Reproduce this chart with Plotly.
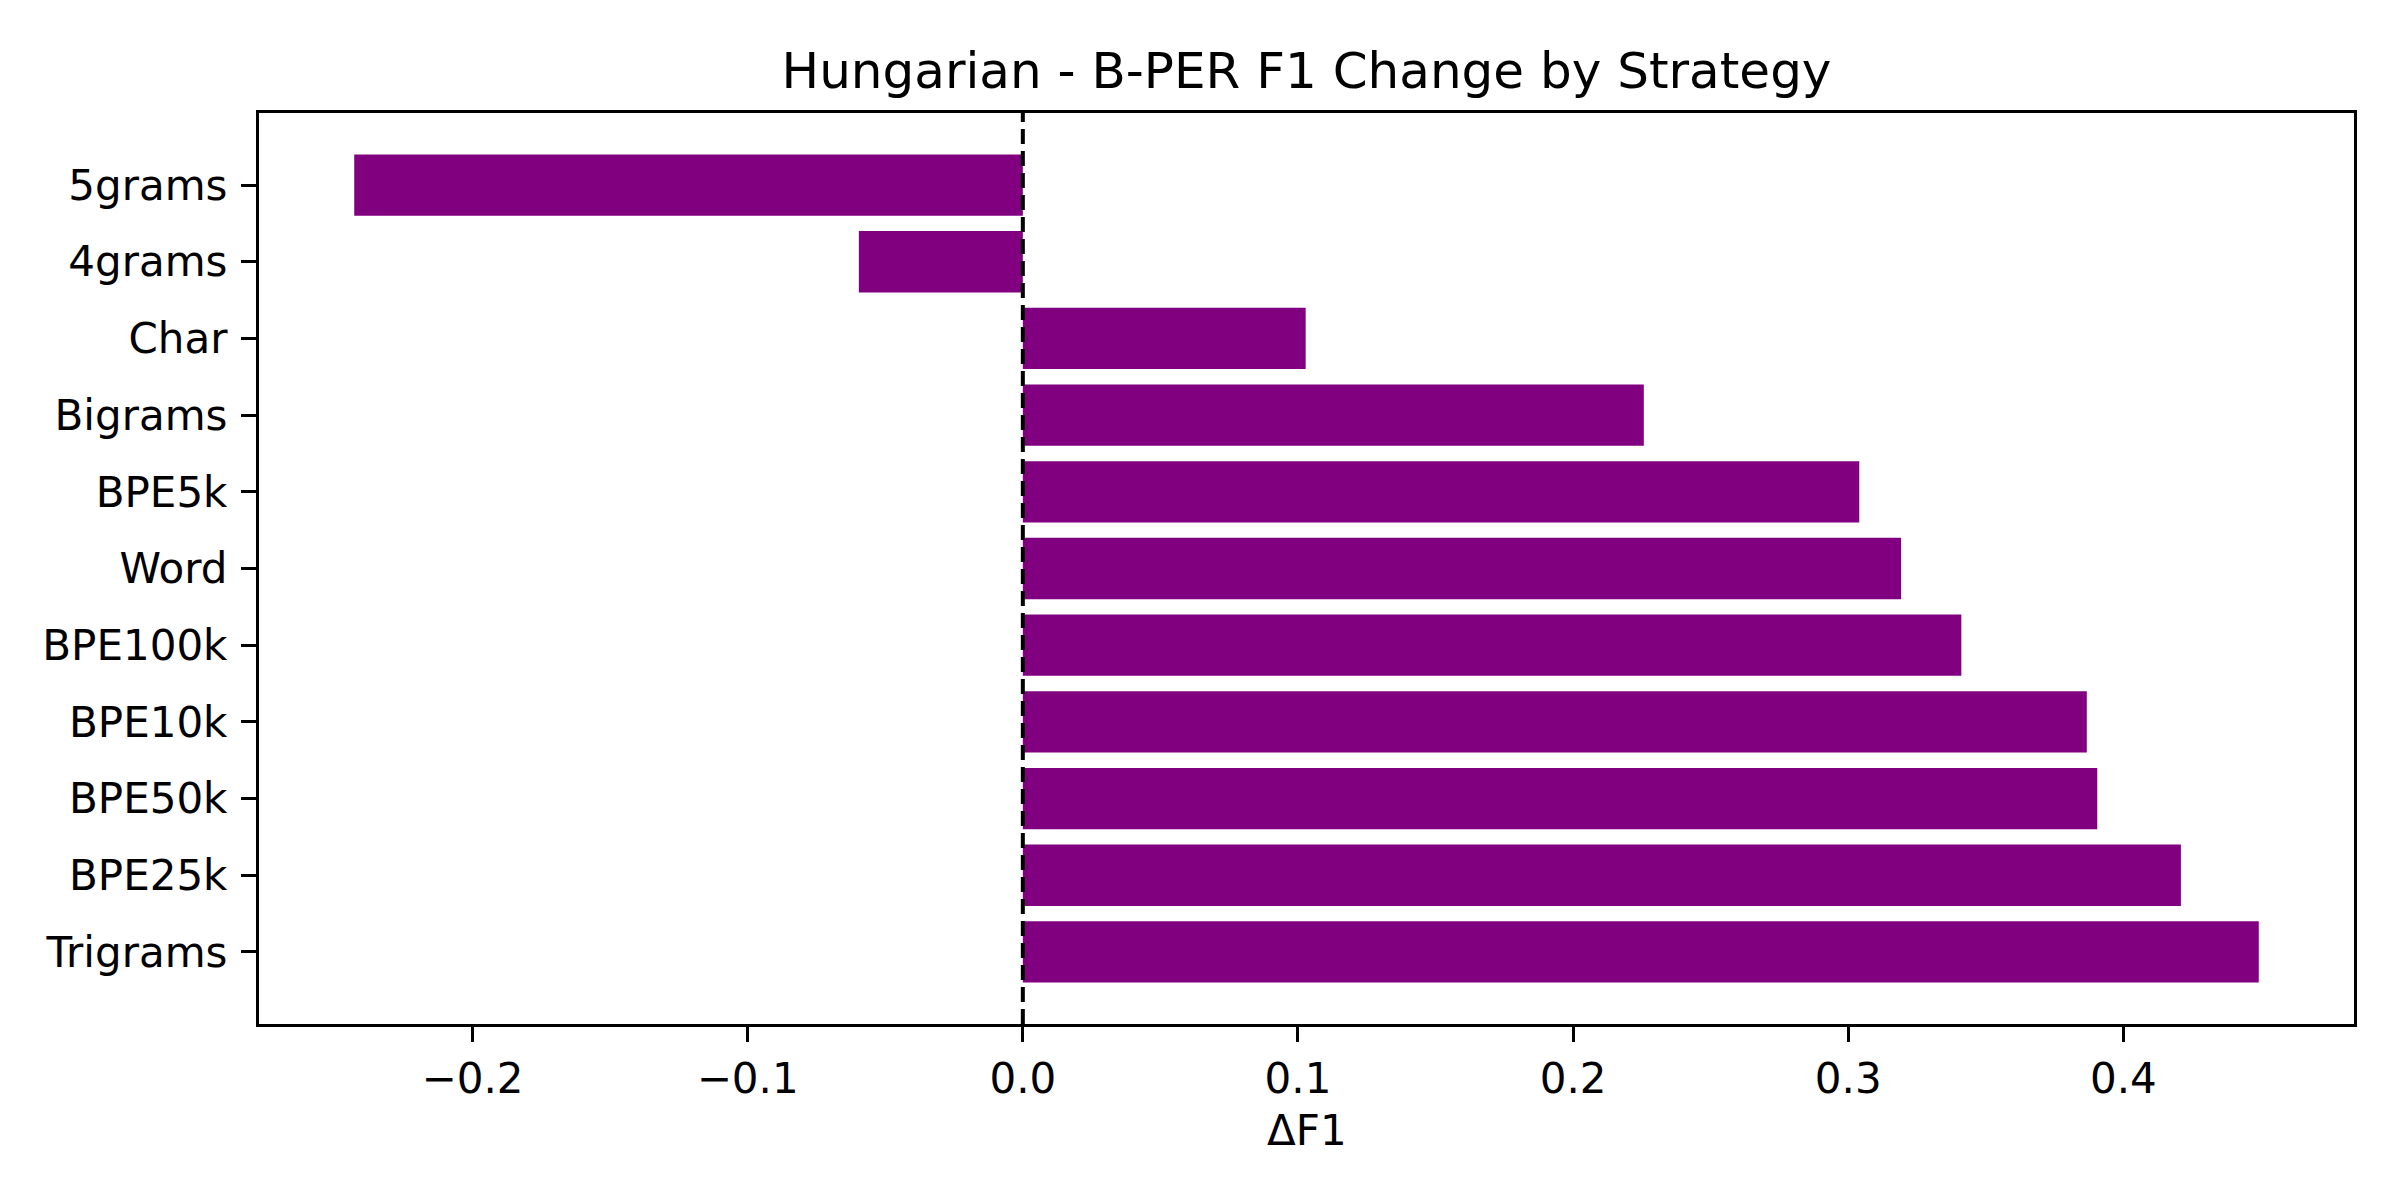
import plotly.graph_objects as go

# strategies listed bottom to top, as drawn
strategies = ["Trigrams", "BPE25k", "BPE50k", "BPE10k", "BPE100k", "Word",
              "BPE5k", "Bigrams", "Char", "4grams", "5grams"]
delta_f1 = [0.4492, 0.4209, 0.3905, 0.3867, 0.3411, 0.3192,
            0.3040, 0.2257, 0.1028, -0.0596, -0.2430]
x_ticks = [-0.2, -0.1, 0.0, 0.1, 0.2, 0.3, 0.4]

W, H = 2400, 1200
left, right, top, bottom = 259, 2354, 113, 1024
font = "DejaVu Sans"

span = max(delta_f1) - min(delta_f1)
x_range = [min(delta_f1) - 0.05 * span, max(delta_f1) + 0.05 * span]
y_range = [-0.4 - 0.54, len(strategies) - 1 + 0.4 + 0.54]

fig = go.Figure()
fig.add_trace(go.Bar(
    x=delta_f1, y=strategies, orientation="h", width=0.8,
    marker=dict(color="purple", line=dict(width=0)),
))

# dashed zero line
fig.add_shape(type="line", xref="x", yref="paper", x0=0, x1=0, y0=0, y1=1,
              line=dict(color="black", width=4, dash="15px,7px"))

fig.update_layout(
    width=W, height=H,
    margin=dict(l=left, r=W - right, t=top, b=H - bottom),
    paper_bgcolor="white", plot_bgcolor="white",
    showlegend=False,
    font=dict(family=font, size=42, color="black"),
    title=dict(text="Hungarian - B-PER F1 Change by Strategy",
               font=dict(family=font, size=50, color="black"),
               x=(left + right) / 2 / W, xanchor="center",
               y=1 - 70 / H, yanchor="middle", yref="container"),
)

fig.update_xaxes(
    range=x_range, tickvals=x_ticks, tickformat=".1f",
    showgrid=False, zeroline=False,
    showline=True, mirror=True, linecolor="black", linewidth=3.3,
    ticks="outside", ticklen=15, tickwidth=3.3, tickcolor="black",
    tickfont=dict(family=font, size=42, color="black"),
)
fig.update_yaxes(
    type="category", categoryorder="array", categoryarray=strategies,
    range=y_range,
    showgrid=False, zeroline=False,
    showline=True, mirror=True, linecolor="black", linewidth=3.3,
    ticks="outside", ticklen=15, tickwidth=3.3, tickcolor="black",
    ticklabelstandoff=5,
    tickfont=dict(family=font, size=42, color="black"),
)

fig.add_annotation(text="ΔF1", xref="paper", yref="paper",
                   x=0.5, y=(bottom - 1130) / (bottom - top),
                   xanchor="center", yanchor="middle", showarrow=False,
                   font=dict(family=font, size=42, color="black"))

fig.write_html("out.html", config={"displayModeBar": False},
               post_script="document.body.style.margin = '0';")
